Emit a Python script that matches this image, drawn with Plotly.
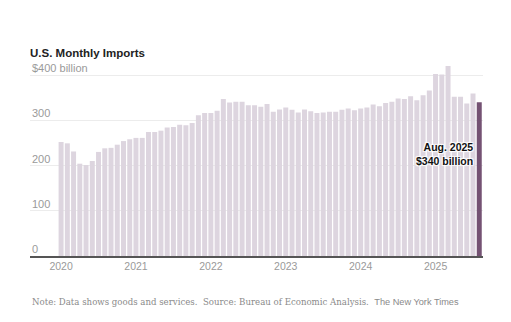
import plotly.graph_objects as go

# Monthly U.S. imports of goods and services, billions of dollars
imports_2020 = [252, 249, 231, 204, 201, 210, 230, 238, 239, 246, 254, 258]
imports_2021 = [261, 261, 274, 274, 277, 284, 285, 290, 289, 294, 311, 316]
imports_2022 = [316, 321, 347, 339, 341, 341, 333, 333, 330, 336, 319, 324]
imports_2023 = [328, 323, 317, 324, 320, 316, 317, 319, 319, 323, 326, 322]
imports_2024 = [326, 328, 335, 331, 338, 341, 348, 347, 353, 344, 355, 366]
imports_2025 = [402, 401, 420, 352, 352, 337, 359, 340]

years = [2020, 2021, 2022, 2023, 2024, 2025]
month_names = ["Jan", "Feb", "Mar", "Apr", "May", "Jun",
               "Jul", "Aug", "Sep", "Oct", "Nov", "Dec"]

values = imports_2020 + imports_2021 + imports_2022 + imports_2023 + imports_2024 + imports_2025
months = [f"{m} {y}" for y in years for m in month_names][:len(values)]

year_ticks = [f"Jan {y}" for y in years]
year_labels = [str(y) for y in years]

y_ticks = [0, 100, 200, 300, 400]
y_tick_labels = ["0", "100", "200", "300", "$400 billion"]

light = "#ddd5df"
dark = "#745273"
colors = [light] * (len(values) - 1) + [dark]

fig = go.Figure()
fig.add_trace(go.Bar(
    x=months,
    y=values,
    marker=dict(color=colors, line=dict(width=0)),
    hoverinfo="x+y",
))

sans = "Liberation Sans, Arial, sans-serif"
serif = "DejaVu Serif, Georgia, serif"

annotations = []
for v, t in zip(y_ticks, y_tick_labels):
    annotations.append(dict(
        x=0, xref="paper", y=v, yref="y",
        xanchor="left", yanchor="bottom", yshift=-1,
        text=t, showarrow=False,
        font=dict(family=sans, size=11, color="#9a9a9a"),
    ))

# Callout for the latest month
last_month = months[-1]
last_value = values[-1]
annotations.append(dict(
    x=last_month, xref="x", y=226, yref="y",
    xanchor="right", yanchor="middle", xshift=-4,
    text=f"Aug. 2025<br>${last_value} billion",
    align="right", showarrow=False,
    font=dict(family=sans, size=10.5, color="#121212", weight="bold",
              shadow="1px 1px 1px #fff, -1px -1px 1px #fff, 1px -1px 1px #fff, -1px 1px 1px #fff"),
))

# Footer note
annotations.append(dict(
    x=0, xref="paper", y=-0.2289, yref="paper",
    xanchor="left", yanchor="middle",
    text=("Note: Data shows goods and services.  Source: Bureau of Economic Analysis.  "
          f"<span style=\"font-family:{sans};font-size:9.2px\">The New York Times</span>"),
    showarrow=False,
    font=dict(family=serif, size=8.6, color="#8a8a8a"),
))

fig.update_layout(
    width=511, height=322,
    margin=dict(l=30, r=28, t=55, b=66),
    paper_bgcolor="white", plot_bgcolor="white",
    bargap=0.2,
    showlegend=False,
    title=dict(
        text="<b>U.S. Monthly Imports</b>",
        x=30 / 511, xref="container", xanchor="left",
        y=1 - 53 / 322, yref="container", yanchor="middle",
        font=dict(family=sans, size=11.5, color="#222222"),
    ),
    xaxis=dict(
        type="category",
        range=[-4.98, len(values) - 1 + 0.6],
        tickmode="array", tickvals=year_ticks, ticktext=year_labels,
        tickfont=dict(family=sans, size=10.5, color="#9a9a9a"),
        ticks="", showgrid=False, zeroline=False,
        showline=True, linecolor="#555555", linewidth=1.5,
    ),
    yaxis=dict(
        range=[0, 444.2],
        tickmode="array", tickvals=y_ticks, showticklabels=False,
        showgrid=True, gridcolor="#ececec", gridwidth=1,
        zeroline=False, showline=False, ticks="",
    ),
    annotations=annotations,
)

fig.write_html("out.html")
